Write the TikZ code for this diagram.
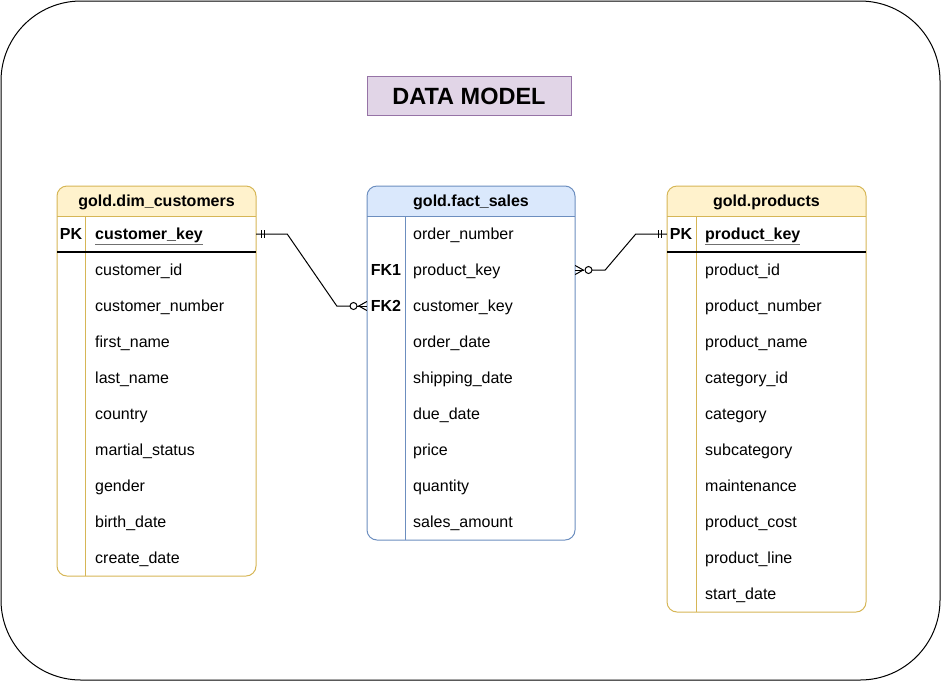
\documentclass[tikz,border=0pt]{standalone}
\usepackage{fontspec}
\setmainfont{Liberation Sans}
\usetikzlibrary{calc}
\definecolor{yfill}{HTML}{FFF2CC}
\definecolor{ystroke}{HTML}{D6B656}
\definecolor{bfill}{HTML}{DAE8FC}
\definecolor{bstroke}{HTML}{6C8EBF}
\definecolor{pfill}{HTML}{E1D5E7}
\definecolor{pstroke}{HTML}{9673A6}
\definecolor{ulgray}{HTML}{707070}
\newcommand{\grayul}[1]{{\color{ulgray}\underline{\color{black}#1}}}
\begin{document}
\begin{tikzpicture}[x=1pt,y=-1pt,
  titlebox/.style={draw=pstroke,fill=pfill,line width=1pt,minimum width=204pt,minimum height=39pt,inner sep=0pt},
  titletxt/.style={anchor=base,inner sep=0pt,font=\fontsize{23.5}{28}\selectfont\bfseries},
  hdr/.style={anchor=base,inner sep=0pt,font=\fontsize{16}{19}\selectfont\bfseries},
  keylbl/.style={anchor=base,inner sep=0pt,font=\fontsize{16}{19}\selectfont\bfseries},
  fld/.style={anchor=base west,inner sep=0pt,font=\fontsize{16}{19}\selectfont},
  rowbox/.style={minimum width=#1,minimum height=36pt,inner sep=0pt},
  conn/.style={line width=1pt,black},
  tipline/.style={line width=1pt,black}
]
\useasboundingbox (0,0) rectangle (941,681);
\draw[line width=1pt,rounded corners=80pt] (1,1) rectangle (940,680);

\node[titlebox] (title) at (469,95.5) {};
\node[titletxt] (titleT) at (469,104) {DATA MODEL};

% ---------- customers ----------
\begin{scope}
\clip[rounded corners=10pt] (57,186) rectangle (256,576);
\fill[yfill] (57,186) rectangle (256,216);
\end{scope}
\draw[ystroke,line width=1pt,rounded corners=10pt] (57,186) rectangle (256,576);
\draw[ystroke,line width=1pt] (57,216) -- (256,216);
\draw[ystroke,line width=1pt] (85,216) -- (85,576);
\draw[black,line width=1.2pt] (57,252) -- (256,252);
\node[hdr] (custH) at (156.5,206.5) {gold.dim\_customers};
\node[rowbox=199pt] (custPK) at (156.5,234) {};
\node[keylbl] (custPKl) at (71,239.5) {PK};
\node[fld,font=\fontsize{16}{19}\selectfont\bfseries] (custK) at (95,239.5) {\grayul{customer\_key}};
\foreach \t [count=\i] in {customer\_id,customer\_number,first\_name,last\_name,country,martial\_status,gender,birth\_date,create\_date}{
  \node[fld] (cust\i) at (95,{239.5+36*\i}) {\t};
}

% ---------- fact sales ----------
\begin{scope}
\clip[rounded corners=10pt] (367,186) rectangle (575,540);
\fill[bfill] (367,186) rectangle (575,216);
\end{scope}
\draw[bstroke,line width=1pt,rounded corners=10pt] (367,186) rectangle (575,540);
\draw[bstroke,line width=1pt] (367,216) -- (575,216);
\draw[bstroke,line width=1pt] (405,216) -- (405,540);
\node[hdr] (factH) at (471,206.5) {gold.fact\_sales};
\node[rowbox=208pt] (factPK) at (471,270) {};
\node[rowbox=208pt] (factCK) at (471,306) {};
\node[keylbl] (fk1) at (386,275.5) {FK1};
\node[keylbl] (fk2) at (386,311.5) {FK2};
\foreach \t [count=\i from 0] in {order\_number,product\_key,customer\_key,order\_date,shipping\_date,due\_date,price,quantity,sales\_amount}{
  \node[fld] (fact\i) at (413,{239.5+36*\i}) {\t};
}

% ---------- products ----------
\begin{scope}
\clip[rounded corners=10pt] (667,186) rectangle (866,612);
\fill[yfill] (667,186) rectangle (866,216);
\end{scope}
\draw[ystroke,line width=1pt,rounded corners=10pt] (667,186) rectangle (866,612);
\draw[ystroke,line width=1pt] (667,216) -- (866,216);
\draw[ystroke,line width=1pt] (696,216) -- (696,612);
\draw[black,line width=1.2pt] (667,252) -- (866,252);
\node[hdr] (prodH) at (766.5,206.5) {gold.products};
\node[rowbox=199pt] (prodPK) at (766.5,234) {};
\node[keylbl] (prodPKl) at (681,239.5) {PK};
\node[fld,font=\fontsize{16}{19}\selectfont\bfseries] (prodK) at (705,239.5) {\grayul{product\_key}};
\foreach \t [count=\i] in {product\_id,product\_number,product\_name,category\_id,category,subcategory,maintenance,product\_cost,product\_line,start\_date}{
  \node[fld] (prod\i) at (705,{239.5+36*\i}) {\t};
}

% ---------- connectors ----------
\draw[conn] (custPK.east) -- ++(31,0) -- ($(factCK.west)+(-30,0)$) -- ($(factCK.west)+(-17,0)$);
\draw[conn] ($(factCK.west)+(-9.5,0)$) -- (factCK.west);
% mandatory one at customers
\draw[tipline] ($(custPK.east)+(5,-4)$) -- ++(0,8);
\draw[tipline] ($(custPK.east)+(8.5,-4)$) -- ++(0,8);
% zero to many at fact customer_key
\draw[tipline,fill=white] ($(factCK.west)+(-13.3,0)$) circle (3.5pt);
\draw[tipline] ($(factCK.west)+(0,-4.5)$) -- ($(factCK.west)+(-8,0)$) -- ($(factCK.west)+(0,4.5)$);

\draw[conn] ($(factPK.east)+(17,0)$) -- ($(factPK.east)+(30,0)$) -- ($(prodPK.west)+(-31,0)$) -- (prodPK.west);
\draw[conn] (factPK.east) -- ++(9,0);
% zero to many at fact product_key
\draw[tipline,fill=white] ($(factPK.east)+(13.3,0)$) circle (3.5pt);
\draw[tipline] ($(factPK.east)+(0,-4.5)$) -- ($(factPK.east)+(8,0)$) -- ($(factPK.east)+(0,4.5)$);
% mandatory one at products
\draw[tipline] ($(prodPK.west)+(-5,-4)$) -- ++(0,8);
\draw[tipline] ($(prodPK.west)+(-8.5,-4)$) -- ++(0,8);
\end{tikzpicture}
\end{document}
